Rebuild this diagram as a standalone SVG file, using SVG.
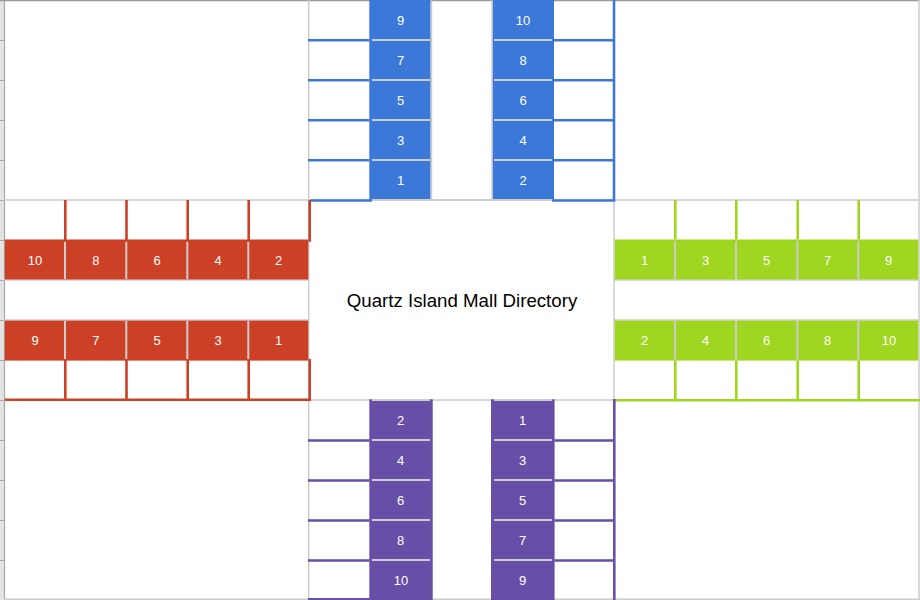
<svg xmlns="http://www.w3.org/2000/svg" width="920" height="600" viewBox="0 0 920 600">
<style>
.grid{stroke:#cccccc;stroke-width:1.5;fill:none}
.sep{stroke:#cccccc;stroke-width:2;fill:none}
.num{font-family:"Liberation Sans",Arial,sans-serif;font-size:13px;fill:#ffffff;text-anchor:middle}
.title{font-family:"Liberation Sans",Arial,sans-serif;font-size:18.7px;fill:#000000;text-anchor:middle}
.blue{fill:#3c78d8}
.red{fill:#cc4125}
.green{fill:#9fd620}
.purple{fill:#674ea7}
.bB{stroke:#3c78d8;stroke-width:2.6;fill:none}
.bR{stroke:#cc4125;stroke-width:2.6;fill:none}
.bG{stroke:#9fd620;stroke-width:2.6;fill:none}
.bP{stroke:#674ea7;stroke-width:2.6;fill:none}
</style>
<rect x="0" y="0" width="920" height="600" fill="#ffffff"/>
<!-- sheet frame -->
<g id="frame">
<rect x="0" y="0" width="4" height="600" fill="#e4e4e4"/>
<line x1="4.5" y1="0" x2="4.5" y2="600" stroke="#a8a8a8" stroke-width="1.2"/>
<path d="M0 40.5H4M0 80.5H4M0 120.5H4M0 160.5H4M0 200.5H4M0 240.5H4M0 280.5H4M0 320.5H4M0 360.5H4M0 400.5H4M0 440.5H4M0 480.5H4M0 520.5H4M0 560.5H4" stroke="#a8a8a8" stroke-width="1"/>
<line x1="0" y1="0.6" x2="920" y2="0.6" stroke="#9a9a9a" stroke-width="1.4"/>
<line x1="919" y1="0" x2="919" y2="600" class="grid"/>
<line x1="4" y1="599.3" x2="920" y2="599.3" class="grid"/>
</g>
<!-- grid lines -->
<g id="gridlines">
<path class="grid" d="M4 200H919M4 400H919M4 280H309M4 320H309M614 280H919M614 320H919M308.7 0V600M614 0V600M431.5 0V200M431.5 400V600M492 0V200M492 400V600"/>
</g>
<!-- north arm -->
<g id="arm-north">
<g id="n9"><rect class="blue" x="369.3" y="0" width="61.2" height="40"/><text class="num" x="400.5" y="24.6">9</text></g>
<g id="n7"><rect class="blue" x="369.3" y="40" width="61.2" height="40"/><text class="num" x="400.5" y="64.6">7</text></g>
<g id="n5"><rect class="blue" x="369.3" y="80" width="61.2" height="40"/><text class="num" x="400.5" y="104.6">5</text></g>
<g id="n3"><rect class="blue" x="369.3" y="120" width="61.2" height="40"/><text class="num" x="400.5" y="144.6">3</text></g>
<g id="n1"><rect class="blue" x="369.3" y="160" width="61.2" height="40"/><text class="num" x="400.5" y="184.6">1</text></g>
<g id="n10"><rect class="blue" x="492.8" y="0" width="61.2" height="40"/><text class="num" x="523" y="24.6">10</text></g>
<g id="n8"><rect class="blue" x="492.8" y="40" width="61.2" height="40"/><text class="num" x="523" y="64.6">8</text></g>
<g id="n6"><rect class="blue" x="492.8" y="80" width="61.2" height="40"/><text class="num" x="523" y="104.6">6</text></g>
<g id="n4"><rect class="blue" x="492.8" y="120" width="61.2" height="40"/><text class="num" x="523" y="144.6">4</text></g>
<g id="n2"><rect class="blue" x="492.8" y="160" width="61.2" height="40"/><text class="num" x="523" y="184.6">2</text></g>
<path class="sep" d="M372 40H430M372 80H430M372 120H430M372 160H430M494 40H552M494 80H552M494 120H552M494 160H552M372 200H553"/>
<path class="bB" d="M308 40.2H369.5M308 80.2H369.5M308 120.2H369.5M308 160.2H369.5M310 200.5H372M554 40.2H614M554 80.2H614M554 120.2H614M554 160.2H614M552 200.5H615.3M614 0V201.8"/>
</g>
<!-- west arm -->
<g id="arm-west">
<g id="w10"><rect class="red" x="4.8" y="239.5" width="60.5" height="40"/><text class="num" x="35" y="264.6">10</text></g>
<g id="w8"><rect class="red" x="65.3" y="239.5" width="61.2" height="40"/><text class="num" x="95.8" y="264.6">8</text></g>
<g id="w6"><rect class="red" x="126.5" y="239.5" width="61.2" height="40"/><text class="num" x="157" y="264.6">6</text></g>
<g id="w4"><rect class="red" x="187.7" y="239.5" width="61" height="40"/><text class="num" x="218" y="264.6">4</text></g>
<g id="w2"><rect class="red" x="248.7" y="239.5" width="59.6" height="40"/><text class="num" x="278.5" y="264.6">2</text></g>
<g id="w9"><rect class="red" x="4.8" y="320.6" width="60.5" height="40"/><text class="num" x="35" y="345.2">9</text></g>
<g id="w7"><rect class="red" x="65.3" y="320.6" width="61.2" height="40"/><text class="num" x="95.8" y="345.2">7</text></g>
<g id="w5"><rect class="red" x="126.5" y="320.6" width="61.2" height="40"/><text class="num" x="157" y="345.2">5</text></g>
<g id="w3"><rect class="red" x="187.7" y="320.6" width="61" height="40"/><text class="num" x="218" y="345.2">3</text></g>
<g id="w1"><rect class="red" x="248.7" y="320.6" width="59.6" height="40"/><text class="num" x="278.5" y="345.2">1</text></g>
<path class="sep" d="M65 241.5V279M126.3 241.5V279M187.3 241.5V279M248.3 241.5V279M65 321V359.5M126.3 321V359.5M187.3 321V359.5M248.3 321V359.5"/>
<path class="bR" d="M65.3 200V241.7M126.5 200V241.7M187.7 200V241.7M248.7 200V241.7M309.7 200V241.7M65.3 359V401M126.5 359V401M187.7 359V401M248.7 359V401M309.7 359V401M4.8 399.8H311"/>
</g>
<!-- east arm -->
<g id="arm-east">
<g id="e1"><rect class="green" x="614.7" y="239.5" width="60.6" height="40"/><text class="num" x="644.5" y="264.6">1</text></g>
<g id="e3"><rect class="green" x="675.3" y="239.5" width="61" height="40"/><text class="num" x="705.5" y="264.6">3</text></g>
<g id="e5"><rect class="green" x="736.3" y="239.5" width="61.4" height="40"/><text class="num" x="766.5" y="264.6">5</text></g>
<g id="e7"><rect class="green" x="797.7" y="239.5" width="61" height="40"/><text class="num" x="827.5" y="264.6">7</text></g>
<g id="e9"><rect class="green" x="858.7" y="239.5" width="59.6" height="40"/><text class="num" x="888.5" y="264.6">9</text></g>
<g id="e2"><rect class="green" x="614.7" y="320.6" width="60.6" height="40"/><text class="num" x="644.5" y="345.2">2</text></g>
<g id="e4"><rect class="green" x="675.3" y="320.6" width="61" height="40"/><text class="num" x="705.5" y="345.2">4</text></g>
<g id="e6"><rect class="green" x="736.3" y="320.6" width="61.4" height="40"/><text class="num" x="766.5" y="345.2">6</text></g>
<g id="e8"><rect class="green" x="797.7" y="320.6" width="61" height="40"/><text class="num" x="827.5" y="345.2">8</text></g>
<g id="e10"><rect class="green" x="858.7" y="320.6" width="59.6" height="40"/><text class="num" x="889" y="345.2">10</text></g>
<path class="sep" d="M675 241.5V279M736 241.5V279M797.3 241.5V279M858.3 241.5V279M675 321V359.5M736 321V359.5M797.3 321V359.5M858.3 321V359.5"/>
<path class="bG" d="M675.3 200V239.5M736.3 200V239.5M797.7 200V239.5M858.7 200V239.5M675.3 360.5V400M736.3 360.5V400M797.7 360.5V400M858.7 360.5V400M614.7 400.3H920"/>
</g>
<!-- south arm -->
<g id="arm-south">
<g id="s2"><rect class="purple" x="369.3" y="399.3" width="63.4" height="40.7"/><text class="num" x="400.5" y="424.6">2</text></g>
<g id="s4"><rect class="purple" x="369.3" y="440" width="63.4" height="40"/><text class="num" x="400.5" y="464.6">4</text></g>
<g id="s6"><rect class="purple" x="369.3" y="480" width="63.4" height="40"/><text class="num" x="400.5" y="504.6">6</text></g>
<g id="s8"><rect class="purple" x="369.3" y="520" width="63.4" height="40"/><text class="num" x="400.5" y="544.6">8</text></g>
<g id="s10"><rect class="purple" x="369.3" y="560" width="63.4" height="40"/><text class="num" x="401" y="584.6">10</text></g>
<g id="s1"><rect class="purple" x="491" y="399.3" width="63.6" height="40.7"/><text class="num" x="522.5" y="424.6">1</text></g>
<g id="s3"><rect class="purple" x="491" y="440" width="63.6" height="40"/><text class="num" x="522.5" y="464.6">3</text></g>
<g id="s5"><rect class="purple" x="491" y="480" width="63.6" height="40"/><text class="num" x="522.5" y="504.6">5</text></g>
<g id="s7"><rect class="purple" x="491" y="520" width="63.6" height="40"/><text class="num" x="522.5" y="544.6">7</text></g>
<g id="s9"><rect class="purple" x="491" y="560" width="63.6" height="40"/><text class="num" x="522.5" y="584.6">9</text></g>
<path class="sep" d="M372 400H430M372 440H430M372 480H430M372 520H430M372 560H430M494 400H552M494 440H552M494 480H552M494 520H552M494 560H552"/>
<path class="bP" d="M308 440.5H369.5M308 480.5H369.5M308 520.5H369.5M308 560.5H369.5M308 599.2H369.5M554.5 440.5H614M554.5 480.5H614M554.5 520.5H614M554.5 560.5H614M614.3 399V600"/>
</g>
<!-- center -->
<g id="center">
<text class="title" x="462" y="306.7">Quartz Island Mall Directory</text>
</g>
</svg>
